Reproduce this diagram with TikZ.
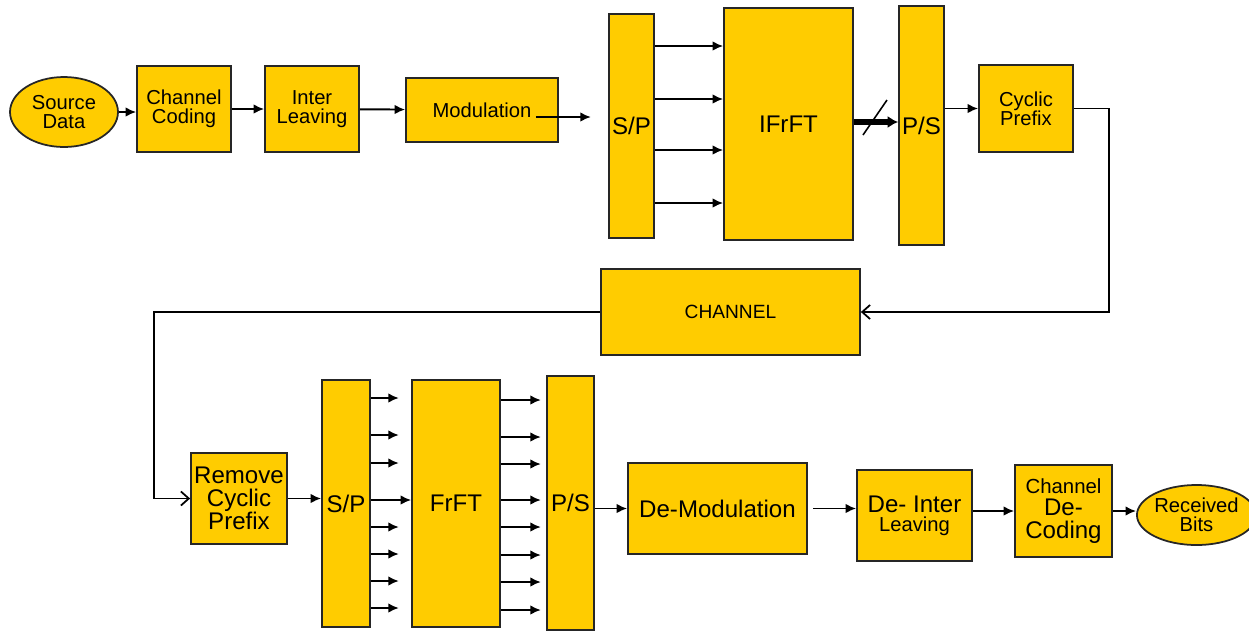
\documentclass[tikz,border=0pt]{standalone}
\usepackage{fontspec}
\setmainfont{Liberation Sans}
\usetikzlibrary{arrows.meta,shapes.geometric}
\definecolor{blockgold}{RGB}{255,204,0}
\begin{document}
\begin{tikzpicture}[x=0.02cm,y=-0.02cm,
  every node/.style={font=\fontsize{11.5}{11}\selectfont},
  blk/.style={draw=black!85,fill=blockgold,line width=1pt,inner sep=0pt,align=center},
  big/.style={font=\fontsize{13.7}{13}\selectfont},
  arr/.style={-{Latex[length=6pt,width=5.5pt]},line width=1.1pt},
  oarr/.style={-{Straight Barb[length=4.5pt,width=8pt]},line width=1pt}]
\useasboundingbox (0,0) rectangle (1249,630);
% Transmitter chain
\node[blk,ellipse,minimum width=2.16cm,minimum height=1.4cm] (src) at (64,112) {Source\\Data};
\node[blk,minimum width=1.88cm,minimum height=1.72cm] (cc) at (184,109) {Channel\\Coding};
\node[blk,minimum width=1.88cm,minimum height=1.72cm] (il) at (312,109) {Inter\\Leaving};
\node[blk,minimum width=3.04cm,minimum height=1.28cm] (mod) at (482,110) {Modulation};
\node[blk,big,minimum width=0.9cm,minimum height=4.48cm] (sp1) at (631.5,126) {S/P};
\node[blk,big,minimum width=2.58cm,minimum height=4.64cm] (ifrft) at (788.5,124) {IFrFT};
\node[blk,big,minimum width=0.9cm,minimum height=4.78cm] (ps1) at (921.5,125.5) {P/S};
\node[blk,minimum width=1.88cm,minimum height=1.74cm] (cp) at (1026,108.5) {Cyclic\\Prefix};
\node[blk,font=\fontsize{10.9}{11}\selectfont,minimum width=5.18cm,minimum height=1.72cm] (chan) at (730.5,312) {CHANNEL};
% Receiver chain
\node[blk,big,minimum width=1.92cm,minimum height=1.82cm] (rcp) at (239,498.5) {Remove\\Cyclic\\Prefix};
\node[blk,big,minimum width=0.96cm,minimum height=4.94cm] (sp2) at (346,503.5) {S/P};
\node[blk,big,minimum width=1.76cm,minimum height=4.94cm] (frft) at (456,503.5) {FrFT};
\node[blk,big,minimum width=0.94cm,minimum height=5.08cm] (ps2) at (570.5,503) {P/S};
\node[blk,big,minimum width=3.58cm,minimum height=1.82cm] (demod) at (717.5,508.5) {De-Modulation};
\node[blk,minimum width=2.3cm,minimum height=1.82cm] (dil) at (914.5,515.5) {{\fontsize{13.7}{13}\selectfont De- Inter}\\Leaving};
\node[blk,minimum width=1.94cm,minimum height=1.84cm,font=\fontsize{13.7}{13}\selectfont] (cdc) at (1063.5,511) {{\fontsize{11.6}{13}\selectfont Channel}\\De-\\Coding};
\node[blk,ellipse,minimum width=2.02cm,minimum height=1.2cm] (rb) at (1196.5,515) {Received\\Bits};
% Connectors
\draw[arr] (src.east) -- (cc.west |- src.east);
\draw[arr] (cc) -- (il);
\draw[arr] (il) -- (mod);
\draw[arr] ([shift={(-23,7)}]mod.east) coordinate (modout) -- ++(55,0);
\foreach \y in {46,99,150,203}
  \draw[arr] (sp1.east |- 0,\y) -- (ifrft.west |- 0,\y);
\draw[-{Latex[length=6pt,width=7pt]},line width=3.2pt] (ifrft.east |- 0,122) -- (ps1.west |- 0,122);
\draw[line width=0.9pt] (863,135) -- (887,100);
\draw[arr] (ps1.east |- cp.west) -- (cp.west);
\draw[oarr] (cp.east) -- ++(35,0) |- (chan.east);
\draw[oarr] (chan.west) -- ++(-446,0) |- (rcp.west);
\draw[arr] (rcp.east) -- (sp2.west |- rcp.east);
\foreach \y in {398,435,463,527,554,581,608}
  \draw[arr,shorten >=7] (sp2.east |- 0,\y) -- (frft.west |- 0,\y);
\draw[arr] (sp2.east |- 0,500) -- (frft.west |- 0,500);
\foreach \y in {400,437,464,500,527,555,582,610}
  \draw[arr,shorten >=3] (frft.east |- 0,\y) -- (ps2.west |- 0,\y);
\draw[arr] (ps2.east |- demod.west) -- (demod.west);
\draw[arr,shorten <=3] (demod.east) -- (dil.west |- demod.east);
\draw[arr] (dil.east |- cdc.west) -- (cdc.west);
\draw[arr] (cdc.east) -- (rb.west |- cdc.east);
\end{tikzpicture}
\end{document}
